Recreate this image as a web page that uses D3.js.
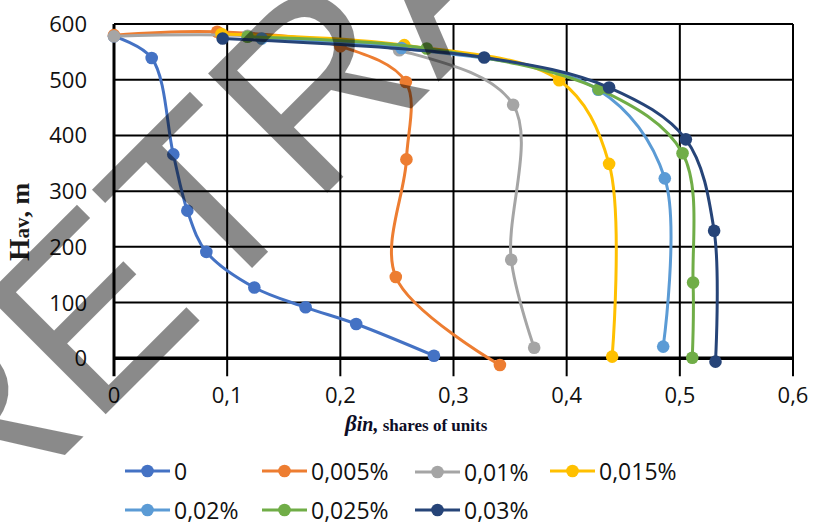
<!DOCTYPE html>
<html>
<head>
<meta charset="utf-8">
<script src="https://cdn.jsdelivr.net/npm/d3@7"></script>
<style>
  body { margin: 0; background: #fff; }
  svg { display: block; }
</style>
</head>
<body>
<svg id="chart" width="813" height="525"></svg>
<script>
// tick values and labels
const xTicks = [0, 0.1, 0.2, 0.3, 0.4, 0.5, 0.6]
const xTickLabels = ['0', '0,1', '0,2', '0,3', '0,4', '0,5', '0,6']
const yTicks = [0, 100, 200, 300, 400, 500, 600]
const yTickLabels = ['0', '100', '200', '300', '400', '500', '600']

// series names and colours
const seriesNames = ['0', '0,005%', '0,01%', '0,015%', '0,02%', '0,025%', '0,03%']
const seriesColors = ['#4472C4', '#ED7D31', '#A5A5A5', '#FFC000', '#5B9BD5', '#70AD47', '#264478']

// [beta, H]
const s0 = [[0, 578], [0.0333, 539], [0.0524, 366], [0.0648, 265], [0.0816, 191], [0.124, 127], [0.1693, 91.5], [0.214, 61.6], [0.2827, 4.7]]
const s005 = [[0, 580], [0.0912, 586], [0.2, 560], [0.2579, 496], [0.2584, 357], [0.249, 146], [0.341, -12]]
const s01 = [[0, 578], [0.118, 579], [0.252, 553], [0.3527, 455], [0.351, 177], [0.3713, 19]]
const s015 = [[0.095, 582], [0.2565, 562], [0.3934, 499], [0.4375, 349], [0.4402, 3]]
const s02 = [[0.1305, 574], [0.254, 557], [0.4279, 482], [0.4867, 323], [0.4853, 21]]
const s025 = [[0.118, 577], [0.2763, 556], [0.4284, 483], [0.5024, 368], [0.5117, 136], [0.511, 1]]
const s03 = [[0.096, 574], [0.3271, 540], [0.4375, 486], [0.5053, 393], [0.5303, 229], [0.5315, -6]]
const seriesData = [s0, s005, s01, s015, s02, s025, s03]

const svg = d3.select('#chart')

const x = d3.scaleLinear().domain([0, 0.6]).range([114, 793])
const y = d3.scaleLinear().domain([0, 600]).range([358.3, 24])

// grid
const grid = svg.append('g')
grid.selectAll('.vgrid')
    .data(xTicks)
    .enter()
    .append('line')
    .attr('x1', (d) => x(d))
    .attr('x2', (d) => x(d))
    .attr('y1', y(600))
    .attr('y2', y(0) + 18)
    .attr('stroke', '#000')
    .attr('stroke-width', (d) => d === 0 ? 3 : 2)

grid.selectAll('.hgrid')
    .data(yTicks)
    .enter()
    .append('line')
    .attr('x1', x(0))
    .attr('x2', x(0.6))
    .attr('y1', (d) => y(d))
    .attr('y2', (d) => y(d))
    .attr('stroke', '#000')
    .attr('stroke-width', (d) => d === 0 ? 3.5 : 2)

// tick labels
svg.selectAll('.xlabel')
    .data(xTicks)
    .enter()
    .append('text')
    .attr('x', (d) => x(d))
    .attr('y', 403)
    .attr('text-anchor', 'middle')
    .attr('font-family', 'Open Sans')
    .attr('font-size', 22)
    .attr('fill', '#111')
    .text((d, i) => xTickLabels[i])

svg.selectAll('.ylabel')
    .data(yTicks)
    .enter()
    .append('text')
    .attr('x', 87)
    .attr('y', (d) => y(d) + 8)
    .attr('text-anchor', 'end')
    .attr('font-family', 'Open Sans')
    .attr('font-size', 22)
    .attr('fill', '#111')
    .text((d, i) => yTickLabels[i])

// axis titles
const xTitle = svg.append('text')
    .attr('x', 345)
    .attr('y', 431)
    .attr('font-family', 'Liberation Serif')
    .attr('font-weight', 'bold')
    .attr('fill', '#0d0d26')
xTitle.append('tspan').attr('font-size', 23).attr('font-style', 'italic').text('β')
xTitle.append('tspan').attr('font-size', 20).attr('font-style', 'italic').text('in,')
xTitle.append('tspan').attr('font-size', 17).text(' shares of units')

const yTitle = svg.append('text')
    .attr('transform', 'translate(29,261) rotate(-90)')
    .attr('font-family', 'Liberation Serif')
    .attr('font-weight', 'bold')
    .attr('fill', '#1a1a1a')
yTitle.append('tspan').attr('font-size', 29).text('H')
yTitle.append('tspan').attr('font-size', 21).text('av')
yTitle.append('tspan').attr('font-size', 26).text(', m')

// series
const line = d3.line()
    .x((d) => x(d[0]))
    .y((d) => y(d[1]))
    .curve(d3.curveCatmullRom.alpha(0.5))

seriesData.forEach((data, i) => {
    const g = svg.append('g')
    g.append('path')
        .attr('d', line(data))
        .attr('fill', 'none')
        .attr('stroke', seriesColors[i])
        .attr('stroke-width', 3)
    g.selectAll('circle')
        .data(data)
        .enter()
        .append('circle')
        .attr('cx', (d) => x(d[0]))
        .attr('cy', (d) => y(d[1]))
        .attr('r', 6.3)
        .attr('fill', seriesColors[i])
})

// legend
const legendX = [125, 262, 415, 550, 125, 262, 415]
const legendY = [471, 471, 472, 471, 510, 510, 510]
const legend = svg.selectAll('.legend')
    .data(seriesNames)
    .enter()
    .append('g')
    .attr('transform', (d, i) => 'translate(' + legendX[i] + ',' + legendY[i] + ')')

legend.append('line')
    .attr('x1', 0)
    .attr('x2', 45)
    .attr('stroke', (d, i) => seriesColors[i])
    .attr('stroke-width', 3)
legend.append('circle')
    .attr('cx', 22.5)
    .attr('r', 6.3)
    .attr('fill', (d, i) => seriesColors[i])
legend.append('text')
    .attr('x', 49)
    .attr('y', 8.5)
    .attr('font-family', 'Open Sans')
    .attr('font-size', 23)
    .attr('fill', '#111')
    .text((d) => d)

// watermark
svg.append('text')
    .attr('transform', 'translate(-33.5,553.5) rotate(-45)')
    .attr('font-family', 'Liberation Sans')
    .attr('font-size', 245)
    .attr('fill', '#000')
    .attr('fill-opacity', 0.46)
    .text('RETRACTED')
</script>
</body>
</html>
